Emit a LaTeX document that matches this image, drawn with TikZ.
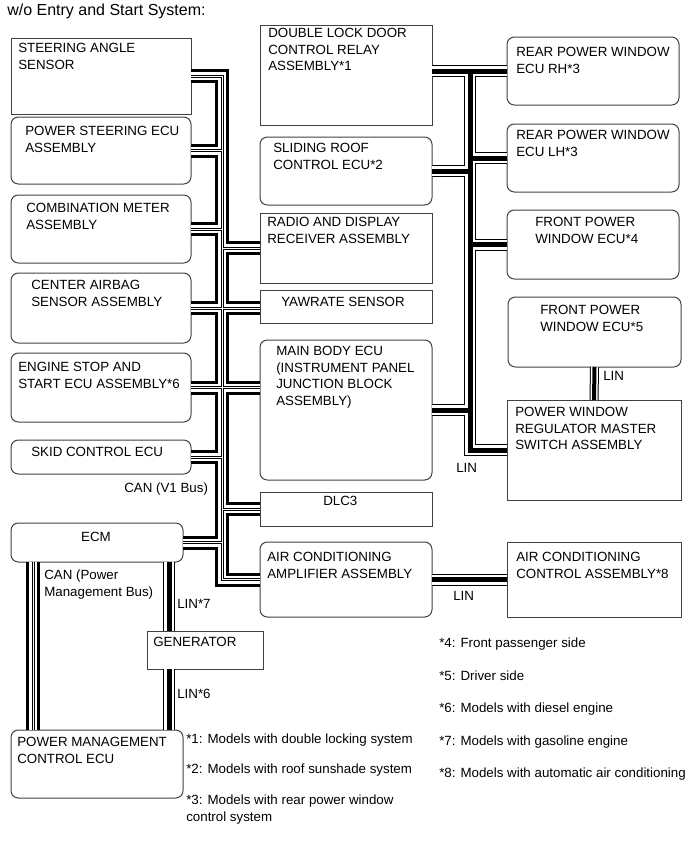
\documentclass[tikz,border=0pt]{standalone}
\usepackage{fontspec}
\setmainfont{Liberation Sans}
\usetikzlibrary{calc}

\tikzset{
  box/.style 2 args={draw=black!75,line width=0.75pt,anchor=north west,inner sep=0pt,outer sep=0pt,
    minimum width=#1*0.75pt,minimum height=#2*0.75pt},
  rbox/.style 2 args={box={#1}{#2},rounded corners=5.5pt},
  txt/.style={anchor=north west,inner sep=0pt,align=left,font=\fontsize{10}{12.4}\selectfont},
  canbus/.style={draw=black,line width=10.5pt,line join=miter,
    postaction={draw=white,line width=6pt},
    postaction={draw=black,line width=2.25pt},
    postaction={draw=white,line width=0.75pt}},
  linbus/.style={draw=black,line width=9pt,line join=miter,
    postaction={draw=white,line width=7.5pt},
    postaction={draw=black,line width=3.75pt}},
  linpair/.style={draw=black,line width=6.75pt,line join=miter,
    postaction={draw=white,line width=5.25pt},
    postaction={draw=black,line width=3pt}},
}

\begin{document}
\begin{tikzpicture}[x=0.75pt,y=-0.75pt]
  \useasboundingbox (0,0) rectangle (690,853);
  \node[txt,font=\fontsize{12}{14}\selectfont] (title) at (7,4) {w/o Entry and Start System:};

  \node[box={180}{76}] (sas) at (11,38) {};
  \node[rbox={180}{67}] (ps) at (11,117) {};
  \node[rbox={180}{68}] (cm) at (11,195) {};
  \node[rbox={180}{70}] (cab) at (11,273) {};
  \node[rbox={180}{69}] (esc) at (11,353) {};
  \node[rbox={180}{34}] (skid) at (11,440) {};
  \node[rbox={172}{39}] (ecm) at (11,523) {};
  \node[box={116}{38}] (gen) at (147,631) {};
  \node[rbox={172}{68}] (pmc) at (11,730) {};

  \node[box={172}{100}] (dld) at (260,25) {};
  \node[rbox={172}{68}] (srf) at (260,137) {};
  \node[box={172}{70}] (radio) at (260,213) {};
  \node[box={172}{33}] (yaw) at (260,290) {};
  \node[rbox={172}{140}] (mbe) at (260,340) {};
  \node[box={172}{34}] (dlc) at (260,492) {};
  \node[rbox={172}{75}] (acamp) at (260,542) {};

  \node[rbox={172}{68}] (rh) at (507,37) {};
  \node[rbox={172}{68}] (lh) at (507,124) {};
  \node[rbox={172}{69}] (fpw4) at (507,210) {};
  \node[rbox={173}{70}] (fpw5) at (508,297) {};
  \node[box={174}{100}] (pwm) at (507,400) {};
  \node[box={174}{75}] (acctl) at (507,542) {};

  \node[txt] (sas-t) at (18,43) {STEERING ANGLE\\SENSOR};
  \node[txt] (ps-t) at (25,126) {POWER STEERING ECU\\ASSEMBLY};
  \node[txt] (cm-t) at (26,203) {COMBINATION METER\\ASSEMBLY};
  \node[txt] (cab-t) at (31,280) {CENTER AIRBAG\\SENSOR ASSEMBLY};
  \node[txt] (esc-t) at (18,362) {ENGINE STOP AND\\START ECU ASSEMBLY*6};
  \node[txt] (skid-t) at (31,447) {SKID CONTROL ECU};
  \node[txt,anchor=north] (ecm-t) at (96,532) {ECM};
  \node[txt] (gen-t) at (153,637) {GENERATOR};
  \node[txt] (pmc-t) at (17,737) {POWER MANAGEMENT\\CONTROL ECU};
  \node[txt] (dld-t) at (268,28) {DOUBLE LOCK DOOR\\CONTROL RELAY\\ASSEMBLY*1};
  \node[txt] (srf-t) at (273,143) {SLIDING ROOF\\CONTROL ECU*2};
  \node[txt] (radio-t) at (267,217) {RADIO AND DISPLAY\\RECEIVER ASSEMBLY};
  \node[txt] (yaw-t) at (281,297) {YAWRATE SENSOR};
  \node[txt] (mbe-t) at (276,346) {MAIN BODY ECU\\(INSTRUMENT PANEL\\JUNCTION BLOCK\\ASSEMBLY)};
  \node[txt] (dlc-t) at (323,496) {DLC3};
  \node[txt] (acamp-t) at (267,552) {AIR CONDITIONING\\AMPLIFIER ASSEMBLY};
  \node[txt] (rh-t) at (516,47) {REAR POWER WINDOW\\ECU RH*3};
  \node[txt] (lh-t) at (516,130) {REAR POWER WINDOW\\ECU LH*3};
  \node[txt] (fpw4-t) at (535,217) {FRONT POWER\\WINDOW ECU*4};
  \node[txt] (fpw5-t) at (540,305) {FRONT POWER\\WINDOW ECU*5};
  \node[txt] (pwm-t) at (515,407) {POWER WINDOW\\REGULATOR MASTER\\SWITCH ASSEMBLY};
  \node[txt] (acctl-t) at (516,552) {AIR CONDITIONING\\CONTROL ASSEMBLY*8};

  \coordinate (canx) at (222,0);
  \coordinate (linx) at (470,0);
  \coordinate (pmx) at (33,0);
  \coordinate (linq) at (169,0);

  \draw[canbus] (sas.east) -- (canx |- sas.east) -- (canx |- acamp.west) -- (acamp.west)
    (ps.east) -- (canx |- ps.east)
    (cm.east) -- (canx |- cm.east)
    (cab.east) -- (cab.east -| yaw.west)
    (esc.east) -- (esc.east -| mbe.west)
    (skid.east) -- (canx |- skid.east)
    (ecm.east) -- (canx |- ecm.east)
    (radio.west) -- (canx |- radio.west)
    (dlc.west) -- (canx |- dlc.west);
  \draw[canbus] (ecm.south -| pmx) -- (pmc.north -| pmx);

  \draw[linbus] (dld.east |- rh.west) -- (rh.west)
    (linx |- rh.west) -- (linx |- pwm.west) -- (pwm.west)
    (lh.west) -- (linx |- lh.west)
    (srf.east) -- (linx |- srf.east)
    (fpw4.west) -- (linx |- fpw4.west)
    (mbe.east) -- (linx |- mbe.east);
  \draw[linbus] (ecm.south -| linq) -- (gen.north -| linq);
  \draw[linbus] (gen.south -| linq) -- (pmc.north -| linq);
  \draw[linbus] (acamp.east) -- (acctl.west);
  \draw[linpair] (fpw5.south) -- (pwm.north);

  \node[txt] (can1) at (124,483) {CAN (V1 Bus)};
  \node[txt] (canpm) at (44,570) {CAN (Power\\Management Bus)};
  \node[txt] (lin7) at (177,599) {LIN*7};
  \node[txt] (lin6) at (177,689) {LIN*6};
  \node[txt] (linfpw) at (603,371) {LIN};
  \node[txt] (linmb) at (456,463) {LIN};
  \node[txt] (linac) at (453,591) {LIN};

  \node[txt] (n1) at (186,734) {*1: Models with double locking system};
  \node[txt] (n2) at (186,764) {*2: Models with roof sunshade system};
  \node[txt] (n3) at (186,795) {*3: Models with rear power window\\control system};
  \node[txt] (n4) at (439,638) {*4: Front passenger side};
  \node[txt] (n5) at (439,671) {*5: Driver side};
  \node[txt] (n6) at (439,703) {*6: Models with diesel engine};
  \node[txt] (n7) at (439,736) {*7: Models with gasoline engine};
  \node[txt] (n8) at (439,768) {*8: Models with automatic air conditioning};
\end{tikzpicture}
\end{document}
